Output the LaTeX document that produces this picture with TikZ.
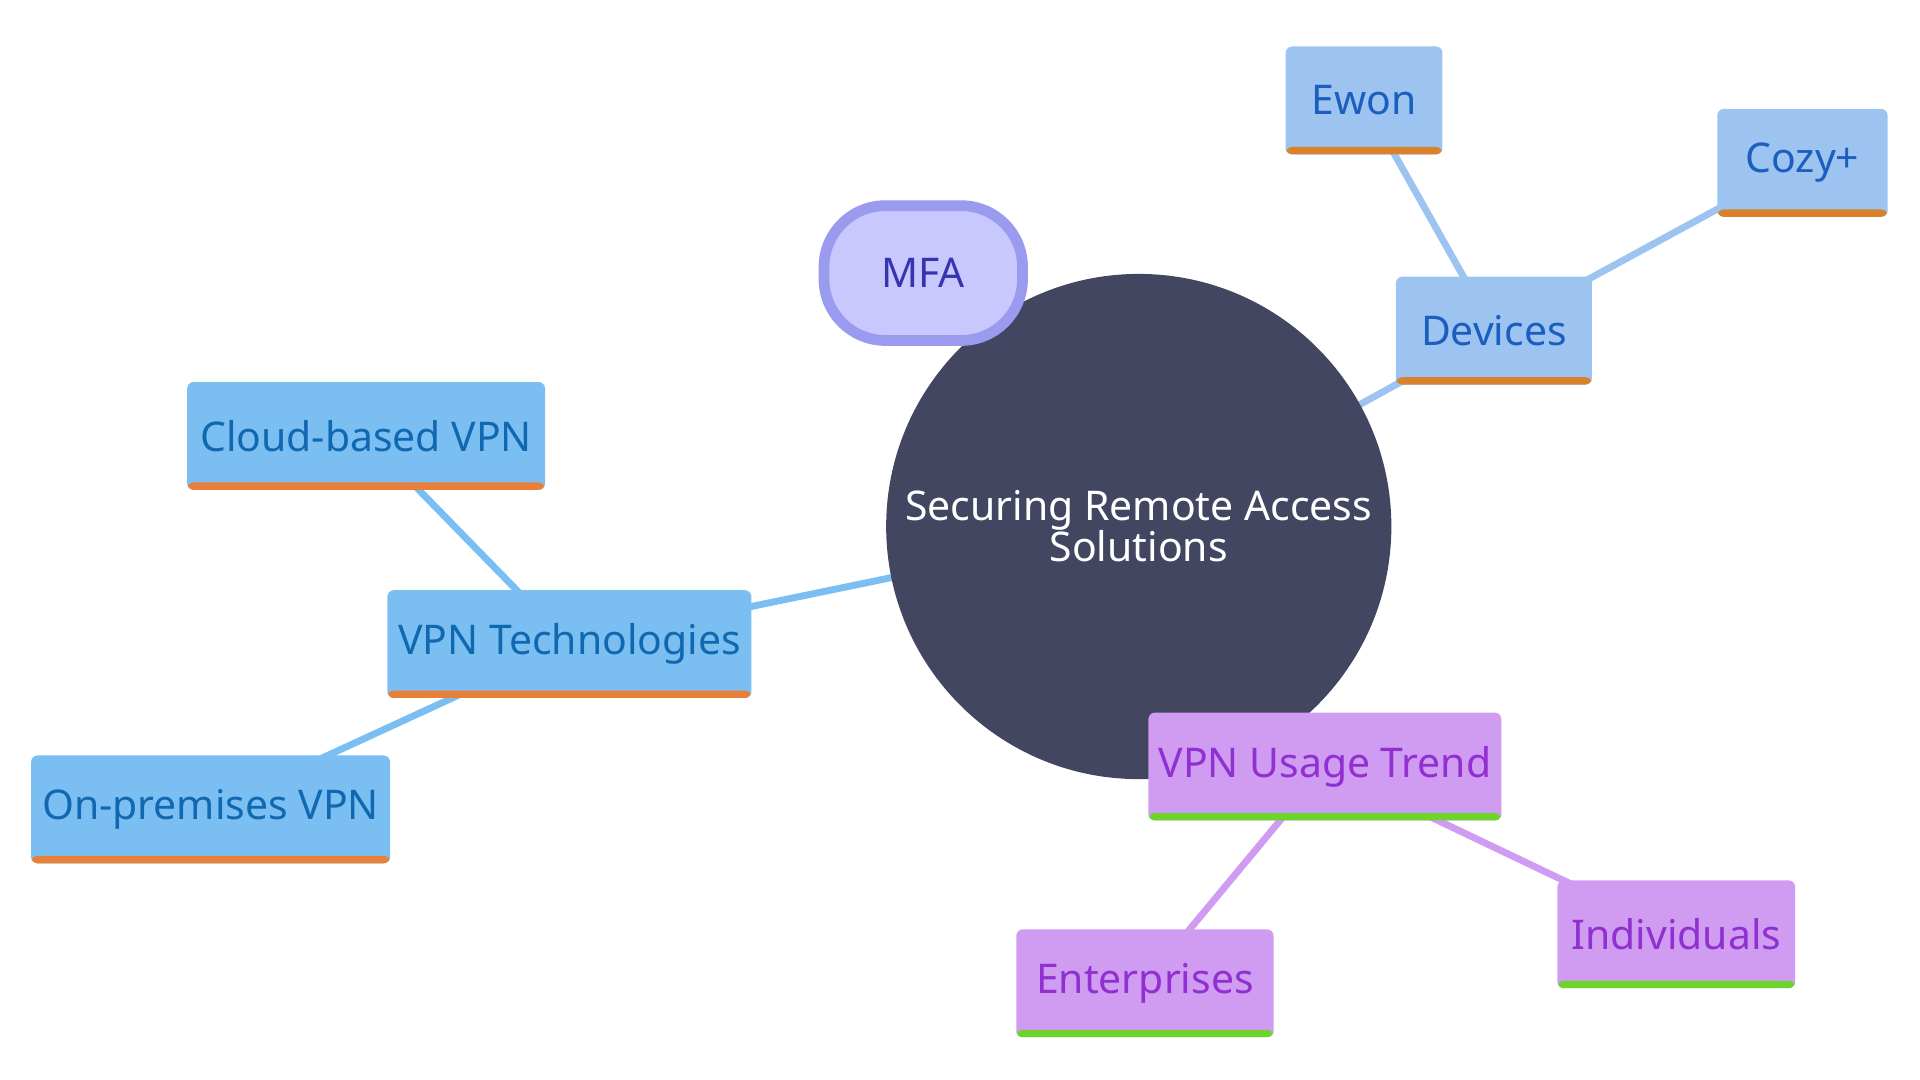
\documentclass[tikz,border=0pt]{standalone}
\usepackage{fontspec}
\setmainfont{Noto Sans}
\usetikzlibrary{backgrounds}
\definecolor{hub}{HTML}{424660}
\definecolor{mfafill}{HTML}{C8C8FF}
\definecolor{mfaline}{HTML}{9A9AEE}
\definecolor{mfatext}{HTML}{3535B0}
\definecolor{devfill}{HTML}{9DC3F0}
\definecolor{devbar}{HTML}{D9822B}
\definecolor{devtext}{HTML}{1A5FC0}
\definecolor{vpnfill}{HTML}{7BBFF2}
\definecolor{vpnbar}{HTML}{E8803A}
\definecolor{vpntext}{HTML}{1069B0}
\definecolor{usefill}{HTML}{CF9CF2}
\definecolor{usebar}{HTML}{6CD42A}
\definecolor{usetext}{HTML}{9030D0}

\tikzset{
  leaf/.style n args={3}{fill=#1, text=#3, minimum height=0.88cm, inner sep=0pt,
    rounded corners=1.5pt, font=\fontsize{9.5}{11}\selectfont,
    path picture={\fill[#2] (path picture bounding box.south west) rectangle
      ([yshift=0.06cm]path picture bounding box.south east);}},
  devleaf/.style={leaf={devfill}{devbar}{devtext}},
  vpnleaf/.style={leaf={vpnfill}{vpnbar}{vpntext}},
  useleaf/.style={leaf={usefill}{usebar}{usetext}},
  link/.style={line width=1.6pt},
}

\begin{document}
\begin{tikzpicture}[x=0.01cm, y=-0.01cm]
  \useasboundingbox (0,0) rectangle (1568,882);

  % hub
  \node[circle, fill=hub, minimum size=4.02cm, text=white, align=center,
        font=\fontsize{9.5}{9.5}\selectfont] (hub) at (930,430)
        {Securing Remote Access\\Solutions};

  \node[rounded corners=0.5cm, fill=mfafill, draw=mfaline, line width=2.5pt,
        minimum width=1.62cm, minimum height=1.1cm, text=mfatext,
        font=\fontsize{9.5}{11}\selectfont] (mfa) at (754,223) {MFA};

  % devices
  \node[devleaf, minimum width=1.6cm] (devices) at (1220,270) {Devices};
  \node[devleaf, minimum width=1.28cm] (ewon) at (1114,82) {Ewon};
  \node[devleaf, minimum width=1.39cm] (cozy) at (1472,133) {Cozy+};

  % vpn technologies
  \node[vpnleaf, minimum width=2.97cm] (vpntech) at (465,526) {VPN Technologies};
  \node[vpnleaf, minimum width=2.92cm] (cloud) at (299,356) {Cloud-based VPN};
  \node[vpnleaf, minimum width=2.93cm] (onprem) at (172,661) {On-premises VPN};

  % usage trend
  \node[useleaf, minimum width=2.88cm] (trend) at (1082,626) {VPN Usage Trend};
  \node[useleaf, minimum width=2.1cm] (enterprises) at (935,803) {Enterprises};
  \node[useleaf, minimum width=1.94cm] (individuals) at (1369,763) {Individuals};

  \begin{scope}[on background layer]
    \draw[link, devfill] (hub.center) -- (devices.center);
    \draw[link, devfill] (devices.center) -- (ewon.center);
    \draw[link, devfill] (devices.center) -- (cozy.center);
    \draw[link, vpnfill] (hub.center) -- (vpntech.center);
    \draw[link, vpnfill] (vpntech.center) -- (cloud.center);
    \draw[link, vpnfill] (vpntech.center) -- (onprem.center);
    \draw[link, usefill] (hub.center) -- (trend.center);
    \draw[link, usefill] (trend.center) -- (enterprises.center);
    \draw[link, usefill] (trend.center) -- (individuals.center);
  \end{scope}
\end{tikzpicture}
\end{document}
